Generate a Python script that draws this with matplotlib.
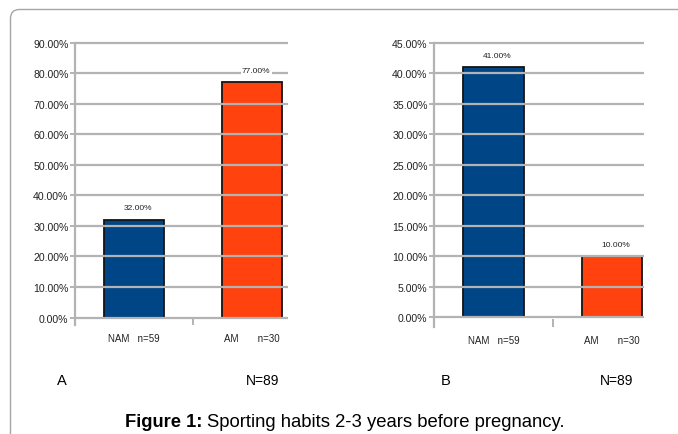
import matplotlib.pyplot as plt
import numpy as np
from matplotlib.path import Path
from matplotlib.patches import PathPatch
from matplotlib.transforms import Affine2D

plt.rcParams["font.family"] = ["Liberation Sans", "DejaVu Sans"]

groups = ["NAM", "AM"]
group_n = [59, 30]
total_n = 89

# sporting 2-3 years before pregnancy, percent of each group
panel_a = [32.0, 77.0]
panel_b = [41.0, 10.0]

colors = ["#004586", "#ff420e"]
grid_color = "#b3b3b3"
text_color = "#222222"

W, H = 678, 435
fig = plt.figure(figsize=(W / 100, H / 100), dpi=100)
# pixel coordinates, origin at top-left
px = Affine2D().scale(1 / W, -1 / H).translate(0, 1) + fig.transFigure


def px_axes(left, right, top, bottom):
    return fig.add_axes([left / W, 1 - bottom / H, (right - left) / W, (bottom - top) / H])


def draw_panel(ax, values, ymax, step, ybelow, xright):
    x = np.arange(len(values))
    ax.set_xlim(-0.5, xright)
    ax.set_ylim(-ybelow, ymax)
    yt = np.arange(0, ymax + step / 2, step)
    ax.bar(x, values, width=0.51, color=colors, edgecolor="#141414", linewidth=1.3, zorder=2)
    ax.hlines(yt, -0.5, xright, color=grid_color, linewidth=1.6, zorder=3, clip_on=False)
    for xi, v in zip(x, values):
        ax.annotate(f"{v:.2f}%", (xi, v), xytext=(3, 6), textcoords="offset points",
                    ha="center", va="bottom", fontsize=6, color=text_color, zorder=4,
                    bbox=dict(boxstyle="square,pad=0.15", fc="white", ec="none"))
    for s in ["top", "right", "bottom"]:
        ax.spines[s].set_visible(False)
    ax.spines["left"].set_color(grid_color)
    ax.spines["left"].set_linewidth(1.6)
    ax.set_yticks(yt)
    ax.set_yticklabels([f"{t:.2f}%" for t in yt])
    ax.tick_params(axis="y", direction="out", length=3.6, width=1.4, color=grid_color,
                   pad=1, labelsize=7.6, labelcolor=text_color)
    ax.set_xticks(x)
    ax.set_xticklabels([f"{g}   n={n}" if g == "NAM" else f"{g}       n={n}"
                        for g, n in zip(groups, group_n)])
    ax.tick_params(axis="x", which="major", length=0, pad=6, labelsize=7, labelcolor=text_color)
    ax.set_xticks([0.5], minor=True)
    ax.tick_params(axis="x", which="minor", direction="in", length=5.8, width=1.4, color=grid_color)
    ax.patch.set_alpha(0)


ax_a = px_axes(75, 288, 43.5, 326)
draw_panel(ax_a, panel_a, 90, 10, 2.45, 1.305)
ax_b = px_axes(434, 644, 44, 327.5)
draw_panel(ax_b, panel_b, 45, 5, 1.5, 1.27)

# panel letters and totals
for letter, lx, nx in [("A", 61.5, 263), ("B", 445.5, 616.5)]:
    fig.text(lx / W, 1 - 381 / H, letter, ha="center", va="center", fontsize=10.5, color="black")
    fig.text(nx / W, 1 - 381 / H, f"N={total_n}", ha="center", va="center", fontsize=10, color="black")

# caption
renderer = fig.canvas.get_renderer()
cap_y = 1 - 423 / H
t1 = fig.text(125 / W, cap_y, "Figure 1:", ha="left", va="center", fontsize=13.2, fontweight="bold")
bb = t1.get_window_extent(renderer)
fig.text((bb.x1 + 5) / W, cap_y, "Sporting habits 2-3 years before pregnancy.",
         ha="left", va="center", fontsize=13.3)

# rounded frame corner, open to the right and bottom
r = 9
x0, y0 = 10.5, 10.5
frame = Path([(x0, H + 5), (x0, y0 + r), (x0, y0), (x0 + r, y0), (W + 5, y0)],
             [Path.MOVETO, Path.LINETO, Path.CURVE3, Path.CURVE3, Path.LINETO])
fig.patches.append(PathPatch(frame, transform=px, fc="none", ec="#a6a6a6", lw=1.0))

fig.savefig("out.png", dpi=100)
